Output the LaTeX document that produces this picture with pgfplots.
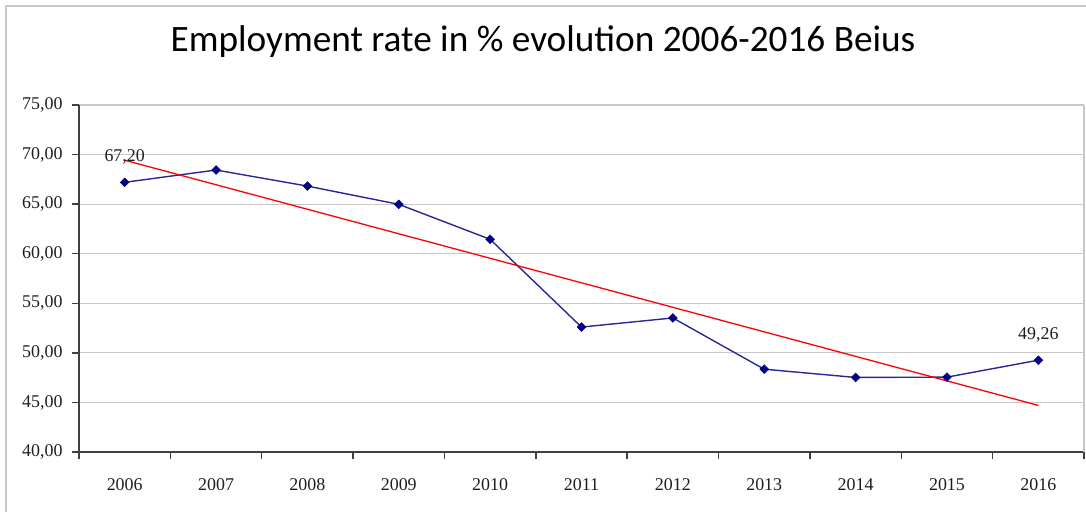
\documentclass[border=0pt]{standalone}
\usepackage{fontspec}
\setmainfont{Liberation Serif}
\newfontfamily\titlefont{Carlito}
\usepackage{pgfplots}
\pgfplotsset{compat=1.18}

\definecolor{navyline}{RGB}{40,40,150}
\definecolor{navymark}{RGB}{0,0,128}
\definecolor{gridgray}{RGB}{200,200,200}
\definecolor{axisgray}{RGB}{64,64,64}
\definecolor{labelcol}{RGB}{30,30,30}

\begin{document}
\begin{tikzpicture}[x=1bp,y=1bp]
\useasboundingbox (0,0) rectangle (1086,512);
% chart frame
\draw[gridgray, line width=1.2bp] (6,-20) rectangle (1110,506);
% title
\node[anchor=base, inner sep=0pt, font=\titlefont\fontsize{37.4}{44}\selectfont]
  at (543,460.3) {Employment rate in \% evolution 2006-2016 Beius};
\begin{axis}[
  at={(79bp,60bp)}, anchor=south west,
  scale only axis, width=1005bp, height=347bp,
  xmin=-0.5, xmax=10.5, ymin=40, ymax=75,
  axis x line*=bottom, axis y line*=left,
  axis line style={axisgray, line width=1.5bp},
  tick align=outside, major tick length=7bp,
  tick style={axisgray, line width=1.5bp},
  xtick={-0.5,0.5,1.5,2.5,3.5,4.5,5.5,6.5,7.5,8.5,9.5,10.5},
  x tick label as interval,
  xticklabels={2006,2007,2008,2009,2010,2011,2012,2013,2014,2015,2016},
  ytick={40,45,50,55,60,65,70,75},
  ymajorgrids,
  major grid style={gridgray, line width=1.2bp},
  ticklabel style={font=\fontsize{18}{21}\selectfont, text=labelcol},
  xticklabel style={yshift=-16bp},
  yticklabel style={xshift=-6bp,
    /pgf/number format/.cd, fixed, fixed zerofill, precision=2, use comma,
    assume math mode=true},
  clip=false,
]
% plot area right edge
\draw[gridgray, line width=1.2bp] (rel axis cs:1,0) -- (rel axis cs:1,1);
% employment rate
\addplot[navyline, line width=1.4bp, mark=square*, mark size=3.1bp,
  mark options={navymark, fill=navymark, line width=0.5bp, rotate=45}]
  coordinates {(0,67.20)(1,68.44)(2,66.82)(3,64.98)(4,61.45)(5,52.60)
               (6,53.52)(7,48.35)(8,47.52)(9,47.55)(10,49.26)};
% linear trend
\addplot[red, line width=1.3bp] coordinates {(0,69.43)(10,44.70)};
% value labels
\node[anchor=base, inner sep=0pt, font=\fontsize{18}{21}\selectfont, text=labelcol]
  at (axis cs:0,67.20) [yshift=21bp] {67,20};
\node[anchor=base, inner sep=0pt, font=\fontsize{18}{21}\selectfont, text=labelcol]
  at (axis cs:10,49.26) [yshift=21bp] {49,26};
\end{axis}
\end{tikzpicture}
\end{document}
